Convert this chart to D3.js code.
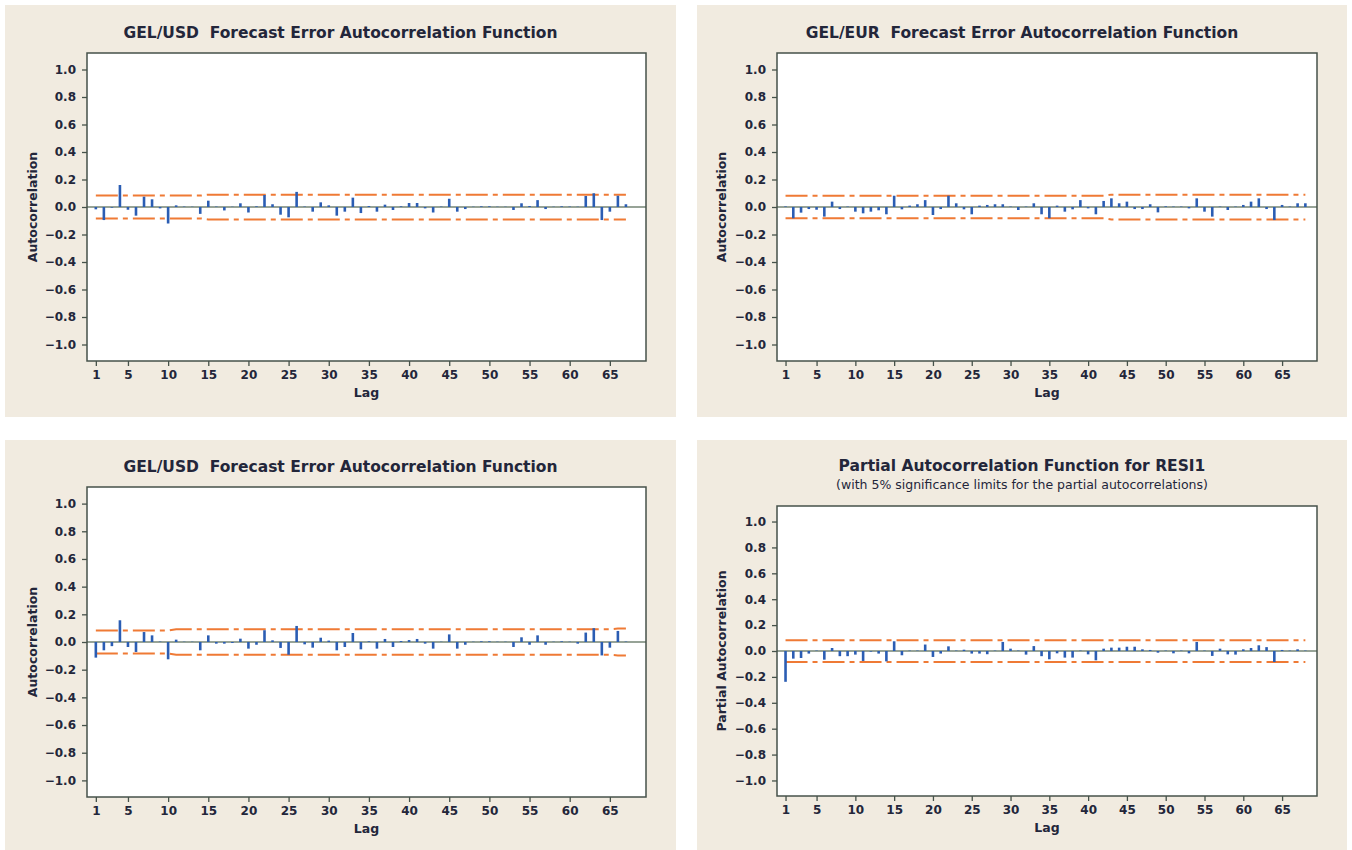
<!DOCTYPE html>
<html>
<head>
<meta charset="utf-8">
<script src="https://cdn.jsdelivr.net/npm/d3@7/dist/d3.min.js"></script>
<style>
    body { margin: 0; background: #fff; }
    svg text { font-family: Tahoma, "DejaVu Sans", sans-serif; fill: #23263a; white-space: pre; }
</style>
</head>
<body>
<svg id="chart"></svg>
<script>
"use strict";

var Width = 1352,
    Height = 850;

// autocorrelations, lag 1 first
var acfUsdTop = [-0.017, -0.095, -0.005, 0.16, -0.02, -0.063, 0.075, 0.056, -0.01, -0.12,
    0.012, 0.003, 0.002, -0.05, 0.046, 0.003, -0.025, 0.002, 0.027, -0.04,
    0.005, 0.087, 0.02, -0.056, -0.075, 0.11, 0.003, -0.034, 0.034, 0.012,
    -0.063, -0.034, 0.068, -0.044, 0.007, -0.034, 0.017, -0.022, 0.005, 0.029,
    0.029, -0.01, -0.04, 0.003, 0.06, -0.034, -0.015, 0.002, 0.005, 0.005,
    0.002, 0.002, -0.022, 0.027, 0.007, 0.05, -0.015, 0.002, 0.005, 0.003,
    0.002, 0.08, 0.1, -0.095, -0.034, 0.082, 0.02];

var acfEur = [0.004, -0.082, -0.041, -0.015, -0.02, -0.07, 0.039, -0.015, 0.003, -0.034,
    -0.046, -0.034, -0.024, -0.053, 0.082, -0.017, 0.01, 0.02, 0.05, -0.058,
    -0.015, 0.082, 0.027, -0.017, -0.053, 0.01, 0.015, 0.02, 0.02, 0.003,
    -0.022, 0.003, 0.027, -0.053, -0.082, 0.01, -0.034, -0.017, 0.05, -0.01,
    -0.053, 0.044, 0.063, 0.027, 0.039, -0.015, -0.015, 0.02, -0.039, 0.005,
    0.003, 0.003, -0.01, 0.063, -0.034, -0.07, 0.003, -0.022, 0.003, 0.015,
    0.039, 0.063, -0.015, -0.095, 0.015, 0.003, 0.027, 0.027];

var acfUsdBottom = [-0.113, -0.06, -0.03, 0.157, -0.036, -0.072, 0.072, 0.048, 0.003, -0.125,
    0.017, 0.002, 0.002, -0.06, 0.048, -0.012, -0.012, -0.007, 0.024, -0.048,
    -0.02, 0.085, 0.012, -0.043, -0.092, 0.116, -0.017, -0.041, 0.031, 0.01,
    -0.06, -0.036, 0.065, -0.053, 0.005, -0.048, 0.022, -0.036, 0.007, 0.014,
    0.022, -0.012, -0.048, 0.002, 0.055, -0.048, -0.02, 0.002, 0.005, 0.005,
    0.002, 0.002, -0.036, 0.034, -0.02, 0.048, -0.02, 0.002, 0.005, 0.002,
    -0.012, 0.068, 0.1, -0.097, -0.041, 0.08, 0.003];

var pacfResi = [-0.238, -0.059, -0.054, -0.02, 0.003, -0.067, 0.023, -0.04, -0.04, -0.028,
    -0.077, -0.005, -0.02, -0.08, 0.075, -0.033, 0.003, 0.003, 0.05, -0.046,
    -0.02, 0.036, 0.003, 0.01, -0.02, -0.02, -0.025, 0.003, 0.07, 0.018,
    0.003, -0.028, 0.038, -0.04, -0.064, -0.018, -0.051, -0.051, 0.003, -0.026,
    -0.072, 0.018, 0.026, 0.026, 0.033, 0.033, 0.013, 0.008, -0.013, 0.003,
    -0.018, 0.003, -0.018, 0.07, 0.003, -0.038, 0.018, -0.026, -0.028, 0.013,
    0.023, 0.044, 0.03, -0.085, 0.008, 0.003, 0.013, 0.003];

// significance limits as [lag, limit] break points
var limUsdTop = [[1, 0.083], [14, 0.083], [15, 0.09], [67, 0.09]];
var limEur = [[1, 0.082], [42, 0.082], [43, 0.09], [68, 0.09]];
var limUsdBottom = [[1, 0.083], [10, 0.083], [11, 0.092], [65, 0.092], [66, 0.097], [67, 0.097]];
var limPacf = [[1, 0.084], [68, 0.084]];

var yTicks = [-1.0, -0.8, -0.6, -0.4, -0.2, 0.0, 0.2, 0.4, 0.6, 0.8, 1.0];
var lagTicks = [1, 5, 10, 15, 20, 25, 30, 35, 40, 45, 50, 55, 60, 65];

var panels = [
    { bg: [5, 5, 671, 412], box: [87, 53, 646, 361], title: "GEL/USD  Forecast Error Autocorrelation Function",
      titleY: 33, values: acfUsdTop, limits: limUsdTop, yLabel: "Autocorrelation", yLabelX: 33 },
    { bg: [697, 5, 650, 412], box: [777, 53, 1317, 361], title: "GEL/EUR  Forecast Error Autocorrelation Function",
      titleY: 33, values: acfEur, limits: limEur, yLabel: "Autocorrelation", yLabelX: 722 },
    { bg: [5, 440, 671, 410], box: [87, 487, 646, 797], title: "GEL/USD  Forecast Error Autocorrelation Function",
      titleY: 467, values: acfUsdBottom, limits: limUsdBottom, yLabel: "Autocorrelation", yLabelX: 33 },
    { bg: [697, 440, 650, 410], box: [777, 506, 1317, 796], title: "Partial Autocorrelation Function for RESI1",
      subtitle: "(with 5% significance limits for the partial autocorrelations)",
      titleY: 466, values: pacfResi, limits: limPacf, yLabel: "Partial Autocorrelation", yLabelX: 722 }
];

var svg = d3.select("#chart")
    .attr("width", Width)
    .attr("height", Height);

function drawPanel(p) {
    var g = svg.append("g");
    var box = p.box;

    g.append("rect")
        .attr("x", p.bg[0]).attr("y", p.bg[1])
        .attr("width", p.bg[2]).attr("height", p.bg[3])
        .attr("fill", "#f1ebe0");

    var x = d3.scaleLinear().domain([-0.1, 69.5]).range([box[0], box[2]]);
    var y = d3.scaleLinear().domain([-1.12, 1.12]).range([box[3], box[1]]);

    g.append("rect")
        .attr("x", box[0]).attr("y", box[1])
        .attr("width", box[2] - box[0]).attr("height", box[3] - box[1])
        .attr("fill", "#fff");

    // title
    var cx = p.bg[0] + p.bg[2] / 2;
    g.append("text")
        .attr("x", cx).attr("y", p.titleY)
        .attr("dy", "0.35em")
        .attr("text-anchor", "middle")
        .attr("font-size", 15.5)
        .attr("font-weight", "bold")
        .text(p.title);
    if (p.subtitle) {
        g.append("text")
            .attr("x", cx).attr("y", p.titleY + 19)
            .attr("dy", "0.35em")
            .attr("text-anchor", "middle")
            .attr("font-size", 12.5)
            .text(p.subtitle);
    }

    // zero line
    g.append("line")
        .attr("x1", box[0]).attr("x2", box[2])
        .attr("y1", y(0)).attr("y2", y(0))
        .attr("stroke", "#758575")
        .attr("stroke-width", 1.5);

    // significance limits
    var limLine = d3.line()
        .x(function (d) { return x(d[0]); })
        .y(function (d) { return y(d[1]); });
    [1, -1].forEach(function (sign) {
        g.append("path")
            .datum(p.limits.map(function (d) { return [d[0], sign * d[1]]; }))
            .attr("d", limLine)
            .attr("fill", "none")
            .attr("stroke", "#ef7a35")
            .attr("stroke-width", 2)
            .attr("stroke-dasharray", "22,5,5,5");
    });

    // bars
    g.selectAll(".bar")
        .data(p.values)
        .enter()
        .append("line")
        .attr("class", "bar")
        .attr("x1", function (d, i) { return x(i + 1); })
        .attr("x2", function (d, i) { return x(i + 1); })
        .attr("y1", y(0))
        .attr("y2", function (d) { return y(d); })
        .attr("stroke", "#2b5db3")
        .attr("stroke-width", 2.6);

    // frame
    g.append("rect")
        .attr("x", box[0]).attr("y", box[1])
        .attr("width", box[2] - box[0]).attr("height", box[3] - box[1])
        .attr("fill", "none")
        .attr("stroke", "#46524a")
        .attr("stroke-width", 1.5);

    var yAxis = g.append("g")
        .attr("transform", "translate(" + box[0] + ",0)")
        .call(d3.axisLeft(y).tickValues(yTicks).tickSize(5).tickPadding(6)
            .tickFormat(d3.format(".1f")));
    var xAxis = g.append("g")
        .attr("transform", "translate(0," + box[3] + ")")
        .call(d3.axisBottom(x).tickValues(lagTicks).tickSize(5).tickPadding(4));

    [yAxis, xAxis].forEach(function (a) {
        a.select(".domain").remove();
        a.selectAll("line").attr("stroke", "#46524a").attr("stroke-width", 1.3);
        a.selectAll("text")
            .attr("font-size", 12)
            .attr("font-weight", "bold")
            .attr("fill", "#2e3346");
        a.attr("font-family", null);
    });

    g.append("text")
        .attr("x", (box[0] + box[2]) / 2)
        .attr("y", box[3] + 32)
        .attr("dy", "0.35em")
        .attr("text-anchor", "middle")
        .attr("font-size", 12.5)
        .attr("font-weight", "bold")
        .text("Lag");

    g.append("text")
        .attr("transform", "translate(" + p.yLabelX + "," + y(0) + ") rotate(-90)")
        .attr("dy", "0.35em")
        .attr("text-anchor", "middle")
        .attr("font-size", 12.5)
        .attr("font-weight", "bold")
        .text(p.yLabel);
}

panels.forEach(drawPanel);
</script>
</body>
</html>
